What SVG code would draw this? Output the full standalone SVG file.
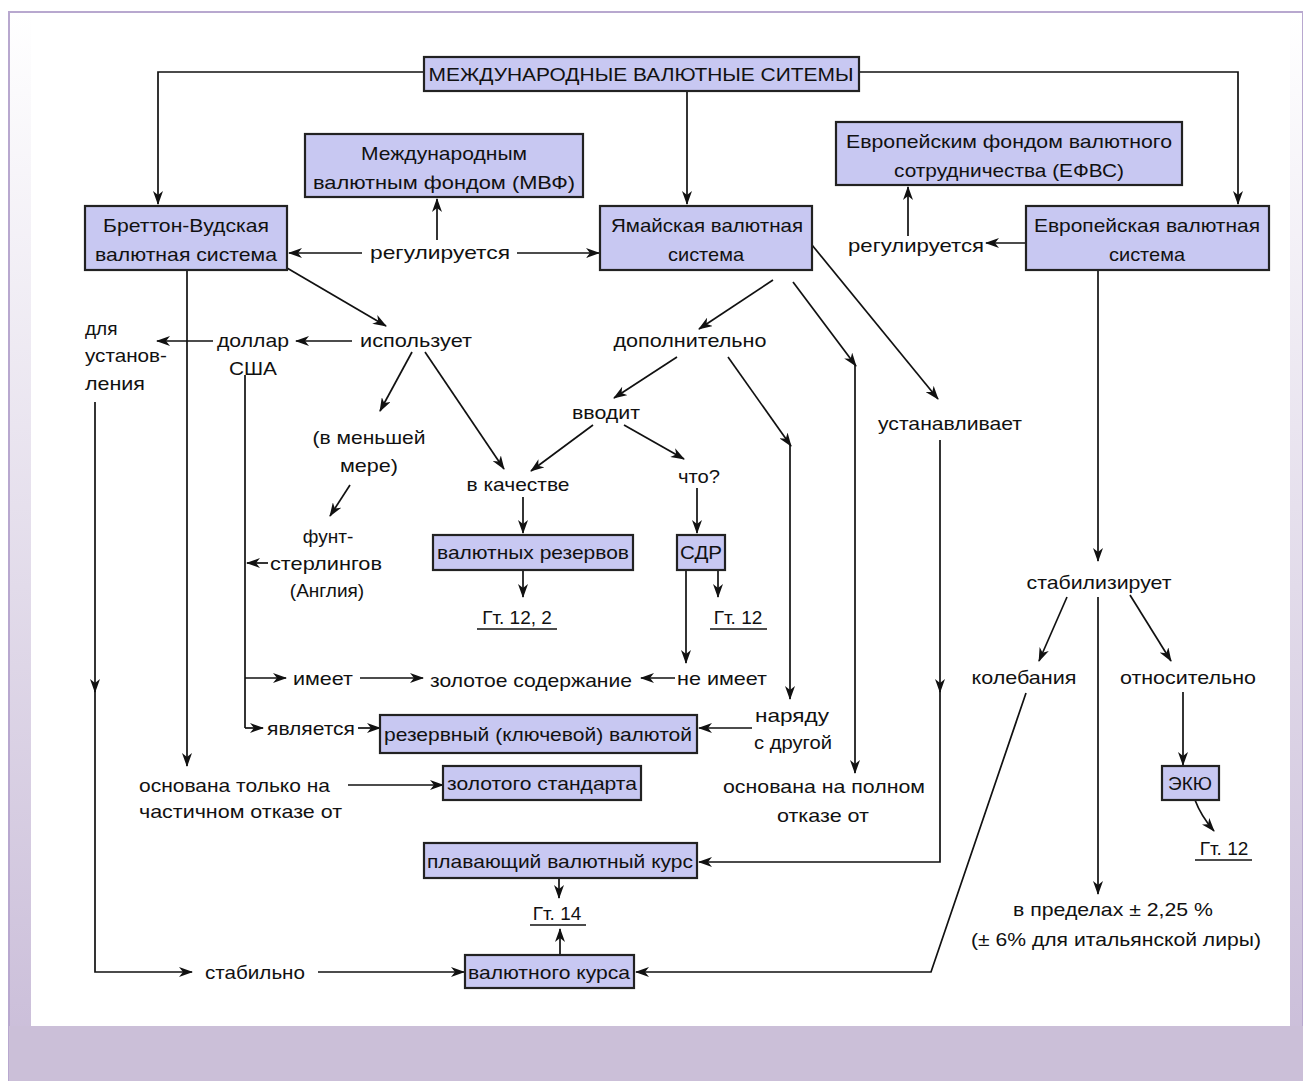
<svg xmlns="http://www.w3.org/2000/svg" width="1303" height="1081" viewBox="0 0 1303 1081">
<defs>
<linearGradient id="bg" x1="0" y1="0" x2="0" y2="1">
<stop offset="0" stop-color="#ffffff"/>
<stop offset="1" stop-color="#c9bcd8"/>
</linearGradient>
<marker id="a" viewBox="0 0 14 10" refX="13" refY="5" markerWidth="14" markerHeight="10" orient="auto" markerUnits="userSpaceOnUse">
<path d="M0,0 L14,5 L0,10 L4,5 z" fill="#111"/>
</marker>
<style>
.box{fill:#c8c8f2;stroke:#222;stroke-width:2.2}
.t{font-family:"Liberation Sans",Arial,sans-serif;font-size:19px;fill:#111}
.m{text-anchor:middle}
.c{fill:none;stroke:#111;stroke-width:1.7}
.ar{marker-end:url(#a)}
.u{fill:none;stroke:#111;stroke-width:1.4}
</style>
</defs>
<g id="background">
<rect x="9" y="12" width="1294" height="1069" fill="url(#bg)" stroke="#b8a8cf" stroke-width="2"/>
<rect x="31" y="14" width="1259" height="1012" fill="#ffffff"/>
<rect x="9" y="1026" width="1294" height="55" fill="#cbbfd8"/>
</g>
<g id="connectors">
<path class="c ar" d="M424,72 H158 V204"/>
<path class="c ar" d="M859,72 H1238 V204"/>
<path class="c ar" d="M687,91 V204"/>
<path class="c ar" d="M437,240 V199"/>
<path class="c ar" d="M362,253 H289"/>
<path class="c ar" d="M517,253 H599"/>
<path class="c ar" d="M1026,243 H986"/>
<path class="c ar" d="M908,236 V187"/>
<path class="c ar" d="M287,268 L386,326"/>
<path class="c ar" d="M352,341 H296"/>
<path class="c ar" d="M213,341 H157"/>
<path class="c ar" d="M187,270 V766"/>
<path class="c ar" d="M95,402 V692"/>
<path class="c ar" d="M95,690 V972 H192"/>
<path class="c ar" d="M318,972 H464"/>
<path class="c" d="M245,375 V728"/>
<path class="c ar" d="M245,678 H286"/>
<path class="c ar" d="M245,728 H263"/>
<path class="c ar" d="M268,563 H247"/>
<path class="c ar" d="M360,678 H423"/>
<path class="c ar" d="M675,678 H641"/>
<path class="c ar" d="M358,728 H380"/>
<path class="c ar" d="M752,728 H699"/>
<path class="c ar" d="M348,785 H443"/>
<path class="c ar" d="M412,352 L380,411"/>
<path class="c ar" d="M350,485 L330,516"/>
<path class="c ar" d="M425,352 L504,469"/>
<path class="c ar" d="M773,280 L699,329"/>
<path class="c ar" d="M793,282 L856,366"/>
<path class="c ar" d="M855,364 V773"/>
<path class="c ar" d="M812,245 L938,399"/>
<path class="c ar" d="M940,440 V692"/>
<path class="c ar" d="M940,690 V862 H699"/>
<path class="c ar" d="M677,357 L614,398"/>
<path class="c ar" d="M728,357 L791,446"/>
<path class="c ar" d="M790,444 V699"/>
<path class="c ar" d="M593,425 L531,471"/>
<path class="c ar" d="M624,425 L684,459"/>
<path class="c ar" d="M523,497 V533"/>
<path class="c ar" d="M523,570 V597"/>
<path class="c ar" d="M697,488 V533"/>
<path class="c ar" d="M718,570 V597"/>
<path class="c ar" d="M686,570 V663"/>
<path class="c ar" d="M559,878 V898"/>
<path class="c ar" d="M560,955 V929"/>
<path class="c ar" d="M1026,693 L931,972 H636"/>
<path class="c ar" d="M1098,270 V561"/>
<path class="c ar" d="M1067,597 L1039,661"/>
<path class="c ar" d="M1130,595 L1171,661"/>
<path class="c ar" d="M1098,597 V894"/>
<path class="c ar" d="M1183,692 V765"/>
<path class="c ar" d="M1195,800 Q1201,816 1214,831"/>
</g>
<g id="n-title"><rect class="box" x="424" y="57" width="435" height="34"/><text class="t m" x="641" y="81" textLength="425" lengthAdjust="spacingAndGlyphs">МЕЖДУНАРОДНЫЕ ВАЛЮТНЫЕ СИТЕМЫ</text></g>
<g id="n-imf"><rect class="box" x="305" y="134" width="278" height="63"/><text class="t m" x="444" y="160" textLength="166" lengthAdjust="spacingAndGlyphs">Международным</text><text class="t m" x="444" y="189" textLength="262" lengthAdjust="spacingAndGlyphs">валютным фондом (МВФ)</text></g>
<g id="n-bretton"><rect class="box" x="85" y="206" width="202" height="64"/><text class="t m" x="186" y="232" textLength="166" lengthAdjust="spacingAndGlyphs">Бреттон-Вудская</text><text class="t m" x="186" y="261" textLength="182" lengthAdjust="spacingAndGlyphs">валютная система</text></g>
<g id="n-jamaica"><rect class="box" x="600" y="206" width="212" height="64"/><text class="t m" x="707" y="232" textLength="192" lengthAdjust="spacingAndGlyphs">Ямайская валютная</text><text class="t m" x="706" y="261" textLength="76" lengthAdjust="spacingAndGlyphs">система</text></g>
<g id="n-efvs"><rect class="box" x="836" y="122" width="346" height="63"/><text class="t m" x="1009" y="148" textLength="326" lengthAdjust="spacingAndGlyphs">Европейским фондом валютного</text><text class="t m" x="1009" y="177" textLength="230" lengthAdjust="spacingAndGlyphs">сотрудничества (ЕФВС)</text></g>
<g id="n-europe"><rect class="box" x="1026" y="206" width="243" height="64"/><text class="t m" x="1147" y="232" textLength="226" lengthAdjust="spacingAndGlyphs">Европейская валютная</text><text class="t m" x="1147" y="261" textLength="76" lengthAdjust="spacingAndGlyphs">система</text></g>
<g id="n-reg1"><text class="t m" x="440" y="259" textLength="140" lengthAdjust="spacingAndGlyphs">регулируется</text></g>
<g id="n-reg2"><text class="t m" x="916" y="252" textLength="136" lengthAdjust="spacingAndGlyphs">регулируется</text></g>
<g id="n-uses"><text class="t m" x="416" y="347" textLength="112" lengthAdjust="spacingAndGlyphs">использует</text></g>
<g id="n-dollar"><text class="t m" x="253" y="347" textLength="72" lengthAdjust="spacingAndGlyphs">доллар</text><text class="t m" x="253" y="375" textLength="48" lengthAdjust="spacingAndGlyphs">США</text></g>
<g id="n-for"><text class="t" x="85" y="335">для</text><text class="t" x="85" y="362" textLength="82" lengthAdjust="spacingAndGlyphs">установ-</text><text class="t" x="85" y="390" textLength="60" lengthAdjust="spacingAndGlyphs">ления</text></g>
<g id="n-less"><text class="t m" x="369" y="444" textLength="113" lengthAdjust="spacingAndGlyphs">(в меньшей</text><text class="t m" x="369" y="472" textLength="58" lengthAdjust="spacingAndGlyphs">мере)</text></g>
<g id="n-pound"><text class="t m" x="328" y="543">фунт-</text><text class="t m" x="326" y="570" textLength="112" lengthAdjust="spacingAndGlyphs">стерлингов</text><text class="t m" x="327" y="597">(Англия)</text></g>
<g id="n-add"><text class="t m" x="690" y="347" textLength="153" lengthAdjust="spacingAndGlyphs">дополнительно</text></g>
<g id="n-intro"><text class="t m" x="606" y="419" textLength="68" lengthAdjust="spacingAndGlyphs">вводит</text></g>
<g id="n-as"><text class="t m" x="518" y="491" textLength="103" lengthAdjust="spacingAndGlyphs">в качестве</text></g>
<g id="n-what"><text class="t m" x="699" y="483" textLength="42" lengthAdjust="spacingAndGlyphs">что?</text></g>
<g id="n-reserves"><rect class="box" x="433" y="535" width="200" height="35"/><text class="t m" x="533" y="559" textLength="192" lengthAdjust="spacingAndGlyphs">валютных резервов</text></g>
<g id="n-sdr"><rect class="box" x="677" y="535" width="48" height="35"/><text class="t m" x="701" y="559" textLength="42" lengthAdjust="spacingAndGlyphs">СДР</text></g>
<g id="n-g122"><text class="t m" x="517" y="624">Гт. 12, 2</text><path class="u" d="M477,629 H557"/></g>
<g id="n-g12a"><text class="t m" x="738" y="624">Гт. 12</text><path class="u" d="M710,629 H767"/></g>
<g id="n-sets"><text class="t m" x="950" y="430" textLength="144" lengthAdjust="spacingAndGlyphs">устанавливает</text></g>
<g id="n-stab"><text class="t m" x="1099" y="589" textLength="145" lengthAdjust="spacingAndGlyphs">стабилизирует</text></g>
<g id="n-fluct"><text class="t m" x="1024" y="684" textLength="105" lengthAdjust="spacingAndGlyphs">колебания</text></g>
<g id="n-rel"><text class="t m" x="1188" y="684" textLength="136" lengthAdjust="spacingAndGlyphs">относительно</text></g>
<g id="n-ecu"><rect class="box" x="1162" y="766" width="57" height="34"/><text class="t m" x="1190" y="790">ЭКЮ</text></g>
<g id="n-g12b"><text class="t m" x="1224" y="855">Гт. 12</text><path class="u" d="M1195,860 H1252"/></g>
<g id="n-range"><text class="t m" x="1113" y="916" textLength="200" lengthAdjust="spacingAndGlyphs">в пределах ± 2,25 %</text><text class="t m" x="1116" y="946" textLength="290" lengthAdjust="spacingAndGlyphs">(± 6% для итальянской лиры)</text></g>
<g id="n-has"><text class="t m" x="323" y="685" textLength="60" lengthAdjust="spacingAndGlyphs">имеет</text></g>
<g id="n-gold"><text class="t m" x="531" y="687" textLength="202" lengthAdjust="spacingAndGlyphs">золотое содержание</text></g>
<g id="n-hasnot"><text class="t m" x="722" y="685" textLength="90" lengthAdjust="spacingAndGlyphs">не имеет</text></g>
<g id="n-is"><text class="t m" x="311" y="735" textLength="88" lengthAdjust="spacingAndGlyphs">является</text></g>
<g id="n-key"><rect class="box" x="380" y="715" width="317" height="38"/><text class="t m" x="538" y="741" textLength="308" lengthAdjust="spacingAndGlyphs">резервный (ключевой) валютой</text></g>
<g id="n-along"><text class="t m" x="792" y="722" textLength="74" lengthAdjust="spacingAndGlyphs">наряду</text><text class="t m" x="793" y="749" textLength="78" lengthAdjust="spacingAndGlyphs">с другой</text></g>
<g id="n-partial"><text class="t" x="139" y="792" textLength="191" lengthAdjust="spacingAndGlyphs">основана только на</text><text class="t" x="139" y="818" textLength="203" lengthAdjust="spacingAndGlyphs">частичном отказе от</text></g>
<g id="n-goldstd"><rect class="box" x="443" y="766" width="198" height="34"/><text class="t m" x="542" y="790" textLength="190" lengthAdjust="spacingAndGlyphs">золотого стандарта</text></g>
<g id="n-full"><text class="t m" x="824" y="793" textLength="202" lengthAdjust="spacingAndGlyphs">основана на полном</text><text class="t m" x="823" y="822" textLength="92" lengthAdjust="spacingAndGlyphs">отказе от</text></g>
<g id="n-float"><rect class="box" x="424" y="843" width="273" height="35"/><text class="t m" x="560" y="868" textLength="266" lengthAdjust="spacingAndGlyphs">плавающий валютный курс</text></g>
<g id="n-g14"><text class="t m" x="557" y="920">Гт. 14</text><path class="u" d="M530,925 H586"/></g>
<g id="n-rate"><rect class="box" x="465" y="955" width="169" height="33"/><text class="t m" x="549" y="979" textLength="162" lengthAdjust="spacingAndGlyphs">валютного курса</text></g>
<g id="n-stable"><text class="t m" x="255" y="979" textLength="100" lengthAdjust="spacingAndGlyphs">стабильно</text></g>
</svg>
